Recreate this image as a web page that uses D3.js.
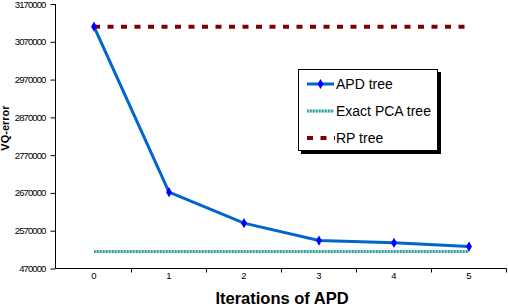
<!DOCTYPE html>
<html><head><meta charset="utf-8">
<script src="https://cdn.jsdelivr.net/npm/d3@7"></script>
<style>
html,body{margin:0;padding:0;background:#fff;}
svg{display:block;font-family:"Liberation Sans",Arial,sans-serif;}
</style></head>
<body><svg id="c" width="508" height="306"></svg>
<script>
const categories = ["0","1","2","3","4","5"];
const apdTree = [3110000, 2672000, 2590000, 2544000, 2538000, 2528000];
const exactPcaTree = [2515000, 2515000, 2515000, 2515000, 2515000, 2515000];
const rpTree = [3110000, 3110000, 3110000, 3110000, 3110000, 3110000];
const yTickValues = [2470000, 2570000, 2670000, 2770000, 2870000, 2970000, 3070000, 3170000];
const yTickLabels = ["470000", "2570000", "2670000", "2770000", "2870000", "2970000", "3070000", "3170000"];
const seriesNames = ["APD tree", "Exact PCA tree", "RP tree"];

const svg = d3.select("#c");
const x = d3.scaleBand().domain(categories).range([56.5, 506.5]);
const y = d3.scaleLinear().domain([2470000, 3170000]).range([268.5, 4]);
const cx = d => x(d) + x.bandwidth() / 2;

// Y axis
const yAxis = d3.axisLeft(y).tickValues(yTickValues)
  .tickFormat((d, i) => yTickLabels[i]).tickSize(5).tickPadding(5);
const gy = svg.append("g").attr("transform", "translate(55.5,0)").call(yAxis);
gy.select(".domain").attr("stroke", "#000").attr("d", "M0," + y.range()[1] + "V" + y.range()[0]);
gy.selectAll("text").attr("font-size", "9.5px").attr("letter-spacing", "-0.9px").attr("fill", "#000");

// X axis
const gx = svg.append("g").attr("transform", "translate(0,268.5)");
gx.append("line").attr("x1", 55.5).attr("x2", 506.5).attr("stroke", "#000");
gx.selectAll("line.tk").data(categories).enter().append("line")
  .attr("class", "tk").attr("x1", d => x(d) + x.bandwidth()).attr("x2", d => x(d) + x.bandwidth())
  .attr("y1", 0).attr("y2", 4).attr("stroke", "#000");
gx.selectAll("text").data(categories).enter().append("text")
  .attr("x", d => cx(d)).attr("y", 10).attr("text-anchor", "middle")
  .attr("font-size", "9.5px").text(d => d);

// Titles
svg.append("text").attr("x", 282).attr("y", 304).attr("text-anchor", "middle")
  .attr("font-size", "16.5px").attr("font-weight", "bold").text("Iterations of APD");
svg.append("text").attr("transform", "translate(9,128) rotate(-90)").attr("text-anchor", "middle")
  .attr("font-size", "11px").attr("font-weight", "bold").text("VQ-error");

const line = d3.line().x((d, i) => cx(categories[i])).y(d => y(d));

// Exact PCA
svg.append("path").attr("d", line(exactPcaTree)).attr("fill", "none")
  .attr("stroke", "#a8d8d8").attr("stroke-width", 3);
svg.append("path").attr("d", line(exactPcaTree)).attr("fill", "none")
  .attr("stroke", "#2f9c9c").attr("stroke-width", 3).attr("stroke-dasharray", "1.5,1.5");

// RP
svg.append("path").attr("d", line(rpTree)).attr("fill", "none")
  .attr("stroke", "#800000").attr("stroke-width", 4).attr("stroke-dasharray", "6,7.5");

// APD
svg.append("path").attr("d", line(apdTree)).attr("fill", "none")
  .attr("stroke", "#0066cc").attr("stroke-width", 3);
const diamond = d3.symbol().type(d3.symbolDiamond).size(30);
svg.selectAll("path.mk").data(apdTree).enter().append("path").attr("class", "mk")
  .attr("d", diamond).attr("fill", "#0000ff")
  .attr("transform", (d, i) => `translate(${cx(categories[i])},${y(d)})`);

// Legend
const lg = svg.append("g");
lg.append("rect").attr("x", 301).attr("y", 72).attr("width", 140).attr("height", 82).attr("fill", "#000");
lg.append("rect").attr("x", 298.5).attr("y", 69.5).attr("width", 139).attr("height", 81)
  .attr("fill", "#fff").attr("stroke", "#000");
const ly = [84, 111, 138];
lg.append("line").attr("x1", 307).attr("x2", 334).attr("y1", ly[0]).attr("y2", ly[0])
  .attr("stroke", "#0066cc").attr("stroke-width", 3);
lg.append("path").attr("d", diamond).attr("fill", "#0000ff").attr("transform", `translate(320.5,${ly[0]})`);
lg.append("line").attr("x1", 307).attr("x2", 334).attr("y1", ly[1]).attr("y2", ly[1])
  .attr("stroke", "#a8d8d8").attr("stroke-width", 3);
lg.append("line").attr("x1", 307).attr("x2", 334).attr("y1", ly[1]).attr("y2", ly[1])
  .attr("stroke", "#2f9c9c").attr("stroke-width", 3).attr("stroke-dasharray", "1.5,1.5");
lg.append("line").attr("x1", 307).attr("x2", 335).attr("y1", ly[2]).attr("y2", ly[2])
  .attr("stroke", "#800000").attr("stroke-width", 4).attr("stroke-dasharray", "6,7.5");
lg.selectAll("text").data(seriesNames).enter().append("text")
  .attr("x", 336).attr("y", (d, i) => ly[i] + 5).attr("font-size", "14px").text(d => d);
</script></body></html>
